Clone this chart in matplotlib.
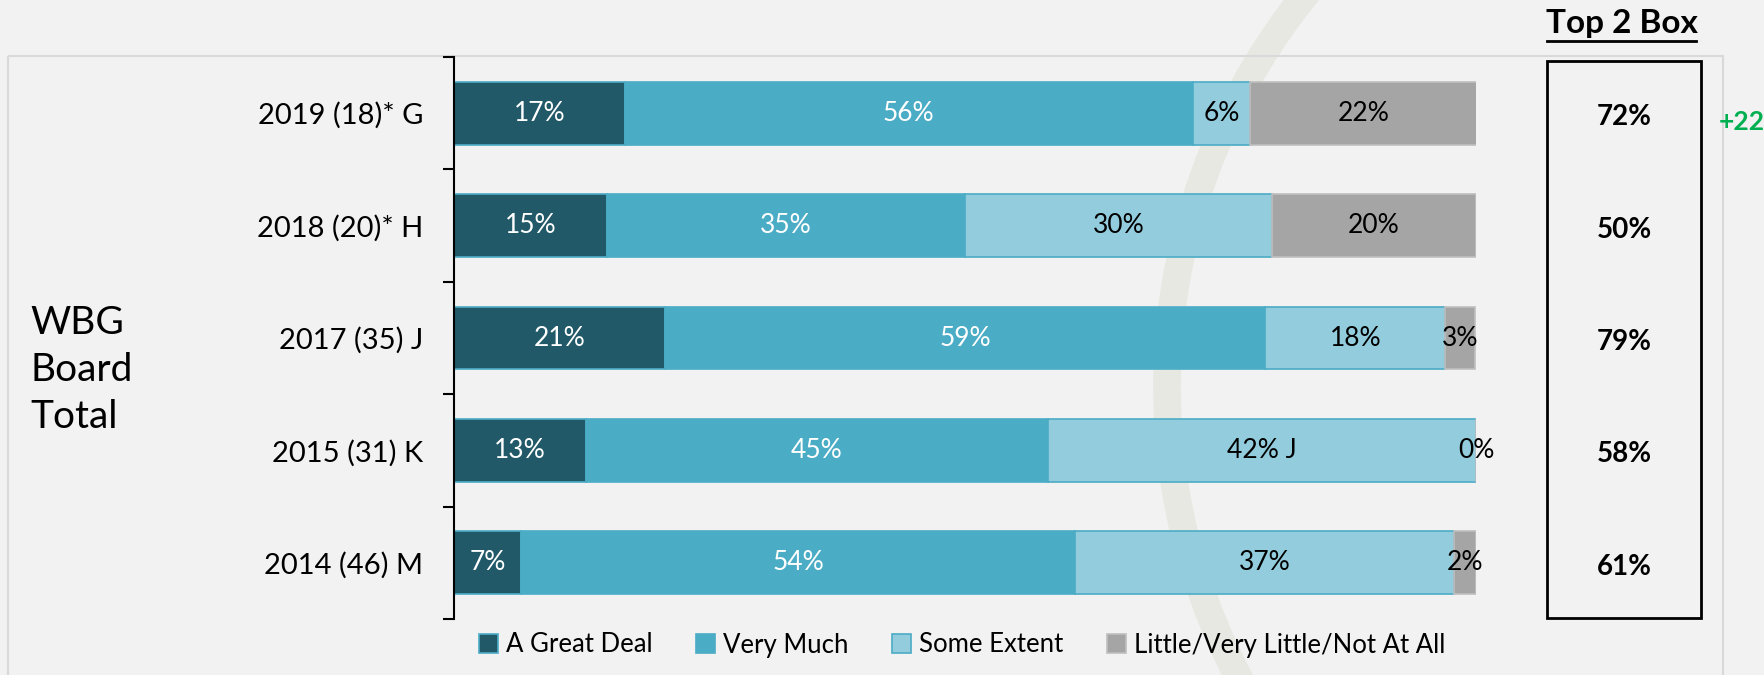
import matplotlib
matplotlib.use("Agg")
import matplotlib.pyplot as plt
import numpy as np
from matplotlib.patches import Rectangle, Patch, Arc

plt.rcParams['font.family'] = ['Lato', 'DejaVu Sans']

categories = ["2019 (18)* G", "2018 (20)* H", "2017 (35) J", "2015 (31) K", "2014 (46) M"]
series_names = ["A Great Deal", "Very Much", "Some Extent", "Little/Very Little/Not At All"]
great_deal = [16.7, 15.0, 20.6, 12.9, 6.6]
very_much = [55.6, 35.0, 58.8, 45.2, 54.2]
some_extent = [5.6, 30.0, 17.6, 41.9, 37.0]
little = [22.2, 20.0, 2.9, 0.0, 2.2]
top2_box = ["72%", "50%", "79%", "58%", "61%"]
label_suffix = {(3, 2): " J"}  # "42% J"
change_label = "+22"

colors = ["#215968", "#4BACC6", "#93CDDD", "#A5A5A5"]
edges = ["#4BACC6", "#4BACC6", "#4BACC6", "#BFBFBF"]
txt_colors = ["white", "white", "black", "black"]

W, H = 1765, 675
fig = plt.figure(figsize=(W / 100, H / 100), dpi=100)
fig.patch.set_facecolor("#F2F2F2")

# background: watermark ring + panel border
bg = fig.add_axes([0, 0, 1, 1], zorder=-5)
bg.set_xlim(0, W)
bg.set_ylim(H, 0)
bg.axis("off")
bg.add_patch(Arc((1792, 387), 1250, 1250, theta1=90, theta2=270,
                 color="#E8E8E3", lw=20))
bg.add_patch(Rectangle((8.5, 56), 1723 - 8.5, 700, fill=False, edgecolor="#D9D9D9", lw=1.5))

ax = fig.add_axes([454 / W, (H - 619) / H, 1022 / W, 562 / H])
ax.set_facecolor("none")

y = np.arange(len(categories))
data = [great_deal, very_much, some_extent, little]
left = np.zeros(len(categories))
for si, vals in enumerate(data):
    vals = np.array(vals)
    ax.barh(y, vals, left=left, height=0.56, color=colors[si], edgecolor=edges[si], lw=1.2)
    for ci, v in enumerate(vals):
        lbl = f"{round(v):d}%" + label_suffix.get((ci, si), "")
        ax.text(left[ci] + v / 2, y[ci], lbl, ha="center", va="center",
                color=txt_colors[si], fontsize=19)
    left += vals

ax.set_xlim(0, 100)
ax.set_ylim(len(categories) - 0.5, -0.5)
for s in ["top", "right", "bottom"]:
    ax.spines[s].set_visible(False)
ax.spines["left"].set_linewidth(1.5)
ax.set_xticks([])
ax.set_yticks(y)
ax.set_yticklabels(categories, fontsize=21)
ax.tick_params(axis="y", which="major", length=0, pad=22)
ax.set_yticks(np.arange(-0.5, len(categories), 1.0), minor=True)
ax.tick_params(axis="y", which="minor", length=8, width=1.5)

# WBG Board Total label
fig.text(30 / W, 1 - 370 / H, "WBG\nBoard\nTotal", ha="left", va="center",
         fontsize=28, linespacing=1.38)

# Top 2 Box
bg.add_patch(Rectangle((1547, 61), 1701 - 1547, 618 - 61, fill=False, edgecolor="black", lw=2))
bg.text(1622, 24, "Top 2 Box", ha="center", va="center", fontsize=24, fontweight="bold")
bg.plot([1547, 1696], [41, 41], color="black", lw=2)
for ci, t in enumerate(top2_box):
    yy = H - ax.transData.transform((0, y[ci]))[1]
    bg.text(1624, yy + 4, t, ha="center", va="center", fontsize=20, fontweight="bold")
yy0 = H - ax.transData.transform((0, y[0]))[1]
bg.text(1719, yy0 + 9, change_label, ha="left", va="center", fontsize=19,
        fontweight="bold", color="#00B050")

handles = [Patch(facecolor=colors[i], edgecolor=edges[i], lw=1.2) for i in range(4)]
fig.legend(handles, series_names, loc="center", bbox_to_anchor=(962 / W, 1 - 645 / H),
           ncol=4, frameon=False, fontsize=18.5, handlelength=0.75, handleheight=0.75,
           handletextpad=0.3, columnspacing=1.7)

fig.savefig("out.png", dpi=100, facecolor=fig.get_facecolor())
